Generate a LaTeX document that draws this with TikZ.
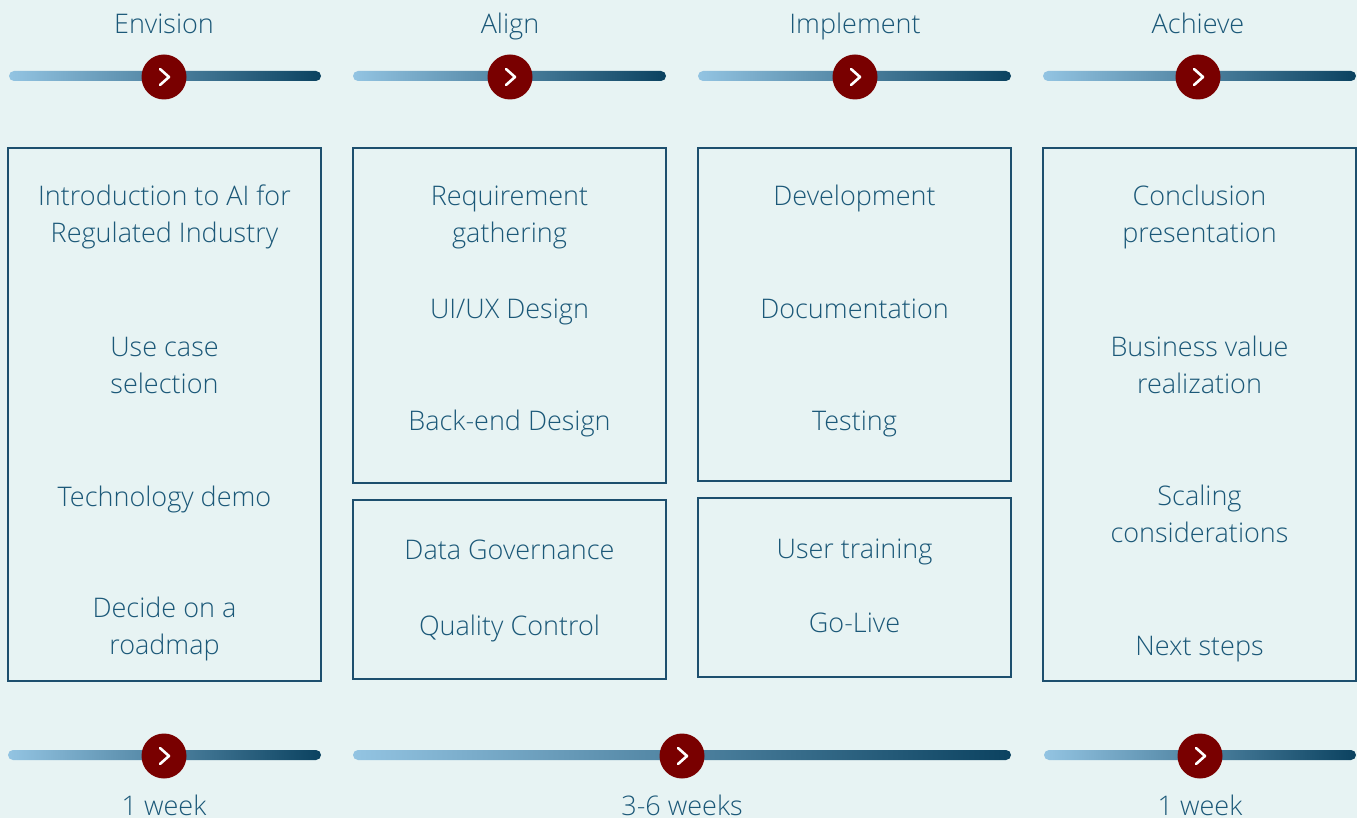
\documentclass[tikz,border=0pt]{standalone}
\usepackage{fontspec}
\setmainfont{Open Sans Light}
\definecolor{bg}{HTML}{E7F3F3}
\definecolor{txt}{HTML}{1B5878}
\definecolor{frame}{HTML}{1D4F6E}
\definecolor{barL}{HTML}{93C4E2}
\definecolor{barR}{HTML}{0B4260}
\definecolor{btn}{HTML}{790000}
\tikzset{
  lbl/.style={anchor=base, text=txt, font=\fontsize{27}{37}\selectfont, align=center, inner sep=0pt},
  panel/.style={draw=frame, line width=1.3pt},
  btnnode/.style={circle, fill=btn, minimum size=45pt, inner sep=0pt},
  chev/.style={draw=white, line width=2.6pt, line cap=round, line join=round},
}
\newcommand{\gbar}[3]{\shade[left color=barL, right color=barR, rounded corners=5pt] (#1,#3-5) rectangle (#2,#3+5);}
\newcommand{\mybtn}[3]{\node[btnnode] (#1) at (#2,#3) {};
  \draw[chev] ([xshift=-4pt,yshift=8pt]#1.center) -- ([xshift=5pt]#1.center) -- ([xshift=-4pt,yshift=-8pt]#1.center);}
\begin{document}
\begin{tikzpicture}[x=1pt,y=-1pt]
\fill[bg] (0,0) rectangle (1357,818);
\useasboundingbox (0,0) rectangle (1357,818);
% top labels
\node[lbl] (t1) at (164,34) {Envision};
\node[lbl] (t2) at (510,34) {Align};
\node[lbl] (t3) at (855,34) {Implement};
\node[lbl] (t4) at (1198,34) {Achieve};
% top bars
\gbar{9}{321}{76}
\gbar{353}{666}{76}
\gbar{698}{1011}{76}
\gbar{1043}{1356}{76}
\mybtn{b1}{164}{77}
\mybtn{b2}{510}{77}
\mybtn{b3}{855}{77}
\mybtn{b4}{1198}{77}
% panels
\draw[panel] (8,148) rectangle (321,681);
\draw[panel] (353,148) rectangle (666,483);
\draw[panel] (353,500) rectangle (666,679);
\draw[panel] (698,148) rectangle (1011,481);
\draw[panel] (698,498) rectangle (1011,677);
\draw[panel] (1043,148) rectangle (1356,681);
% column 1 (multi-line nodes: base = last line)
\node[lbl] (c1a) at (164.5,243) {Introduction to AI for\\Regulated Industry};
\node[lbl] (c1b) at (164.5,393) {Use case\\selection};
\node[lbl] (c1c) at (164.5,506) {Technology demo};
\node[lbl] (c1d) at (164.5,654) {Decide on a\\roadmap};
% column 2
\node[lbl] (c2a) at (509.5,243) {Requirement\\gathering};
\node[lbl] (c2b) at (509.5,318) {UI/UX Design};
\node[lbl] (c2c) at (509.5,430) {Back-end Design};
\node[lbl] (c2d) at (509.5,559) {Data Governance};
\node[lbl] (c2e) at (509.5,635) {Quality Control};
% column 3
\node[lbl] (c3a) at (854.5,206) {Development};
\node[lbl] (c3b) at (854.5,318) {Documentation};
\node[lbl] (c3c) at (854.5,430) {Testing};
\node[lbl] (c3d) at (854.5,558) {User training};
\node[lbl] (c3e) at (854.5,632) {Go-Live};
% column 4
\node[lbl] (c4a) at (1199.5,243) {Conclusion\\presentation};
\node[lbl] (c4b) at (1199.5,393) {Business value\\realization};
\node[lbl] (c4c) at (1199.5,542) {Scaling\\considerations};
\node[lbl] (c4d) at (1199.5,655) {Next steps};
% bottom bars
\gbar{8}{321}{755}
\gbar{353}{1011}{755}
\gbar{1044}{1356}{755}
\mybtn{d1}{164}{756}
\mybtn{d2}{682}{756}
\mybtn{d3}{1200}{756}
% bottom labels
\node[lbl] (w1) at (164,815) {1 week};
\node[lbl] (w2) at (682,815) {3-6 weeks};
\node[lbl] (w3) at (1200,815) {1 week};
\end{tikzpicture}
\end{document}
